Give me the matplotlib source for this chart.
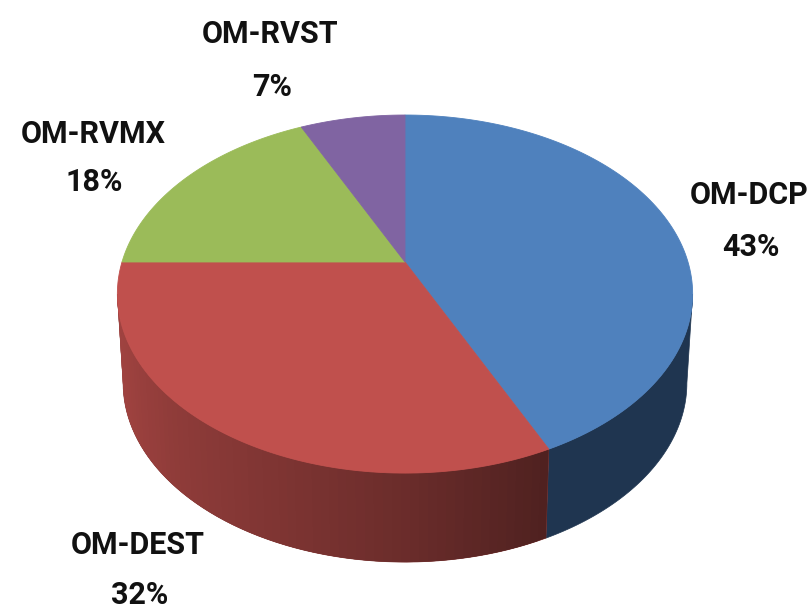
import numpy as np
import matplotlib.pyplot as plt
from matplotlib.colors import to_rgb

labels = ['OM-DCP', 'OM-DEST', 'OM-RVMX', 'OM-RVST']
values = [43, 32, 18, 7]
top_colors = ['#4f81bd', '#c0504d', '#9bbb59', '#8064a2']

# pie geometry in pixels
cx, cy = 405, 262
rx, ry = 283, 173.3
k = 0.179
depth = 89
bottom_scale = 0.98


def project(theta):
    # circle -> slightly perspective ellipse, theta clockwise from 12 o'clock
    u = np.sin(theta)
    v = np.cos(theta)
    d = 1 + k * v
    return cx + rx * u / d, cy - ry * v / d


def wall(a, b):
    # outline of the side wall between two angles
    t = np.linspace(a, b, 60)
    x, y = project(t)
    xb = cx + (x - cx) * bottom_scale
    return np.r_[x, xb[::-1]], np.r_[y, (y + depth)[::-1]]


def side_color(theta, i):
    # wall shading, darker towards the right
    if i == 0:
        return '#1f3550'
    base = np.array(to_rgb(top_colors[i]))
    f = np.interp(np.sin(theta), [-1, -0.72, -0.37, 0, 0.44], [0.85, 0.75, 0.66, 0.56, 0.41])
    return tuple(base * f)


fig = plt.figure(figsize=(8.1, 6.09), dpi=100)
ax = fig.add_axes([0, 0, 1, 1])
ax.set_xlim(0, 810)
ax.set_ylim(609, 0)
ax.axis('off')

edges = np.cumsum([0] + values) / sum(values) * 2 * np.pi

# side wall, only the part in front of the widest point shows
lim_right = np.arccos(-k)
lim_left = 2 * np.pi - lim_right
for i in range(len(values)):
    a0 = max(edges[i], lim_right)
    a1 = min(edges[i + 1], lim_left)
    if a0 >= a1:
        continue
    wx, wy = wall(a0, a1)
    ax.fill(wx, wy, color=side_color((a0 + a1) / 2, i), lw=0.5)
    if i == 0:
        continue
    # gradient strips, each overlaps the next one to hide seams
    t = np.linspace(a0, a1, 70)
    for j in range(len(t) - 1):
        wx, wy = wall(t[j], t[min(j + 2, len(t) - 1)])
        ax.fill(wx, wy, color=side_color(t[j], i), lw=0)

# top face
for i in range(len(values)):
    t = np.linspace(edges[i], edges[i + 1], 120)
    x, y = project(t)
    ax.fill(np.r_[cx, x], np.r_[cy, y], color=top_colors[i], lw=0.6)

font = ['Roboto', 'DejaVu Sans']
name_pos = [(749, 195), (138, 545), (93, 134), (270, 34)]
val_pos = [(751, 247), (140, 595), (94, 182), (272, 87)]
for name, val, np_, vp in zip(labels, values, name_pos, val_pos):
    ax.text(np_[0], np_[1], name, ha='center', va='center', fontsize=22, fontweight='bold',
            family=font, color='#111111')
    ax.text(vp[0], vp[1], f'{val}%', ha='center', va='center', fontsize=22, fontweight='bold',
            family=font, color='#111111')

fig.savefig('out.png', dpi=100)
